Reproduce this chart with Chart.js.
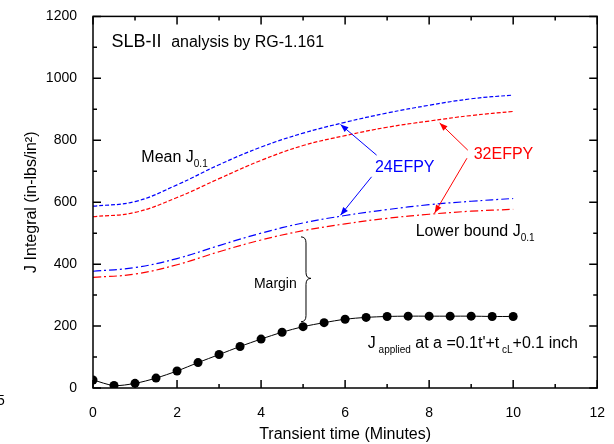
<!DOCTYPE html>
<html>
<head>
<meta charset="utf-8">
<script src="https://cdn.jsdelivr.net/npm/chart.js@4.4.1/dist/chart.umd.min.js"></script>
<style>
  html, body { margin: 0; padding: 0; background: #fff; }
</style>
</head>
<body>
<canvas id="graficoJ" width="614" height="444"></canvas>
<script>
// Tempos (minutos) das curvas de tenacidade
const tempos = [0, 1, 2, 3, 4, 5, 6, 7, 8, 9, 10];
const mediaJ24 = [587, 602, 656, 721, 778, 823, 858, 888, 913, 934, 946];
const mediaJ32 = [553, 567, 615, 676, 735, 783, 815, 842, 862, 880, 893];
const inferiorJ24 = [377, 389, 418, 460, 500, 533, 557, 576, 592, 603, 612];
const inferiorJ32 = [357, 368, 398, 440, 478, 508, 530, 548, 561, 571, 577];

// J aplicado
const temposAplicado = [0, 0.5, 1, 1.5, 2, 2.5, 3, 3.5, 4, 4.5, 5, 5.5, 6, 6.5, 7, 7.5, 8, 8.5, 9, 9.5, 10];
const jAplicado = [26, 8, 15, 32, 55, 82, 108, 134, 158, 180, 198, 211, 222, 228, 231, 232, 232, 232, 232, 231, 231];

// Ticks
const ticksX = [0, 2, 4, 6, 8, 10, 12];
const ticksXMenores = [1, 3, 5, 7, 9, 11];
const ticksY = [0, 200, 400, 600, 800, 1000, 1200];
const ticksYMenores = [100, 300, 500, 700, 900, 1100];

const FONTE = "'Liberation Sans', Arial, sans-serif";
Chart.defaults.font.family = FONTE;
Chart.defaults.color = "#000";

const pares = (xs, ys) => xs.map((x, i) => ({ x, y: ys[i] }));

// Escreve texto com partes (subscrito etc.)
function escrever(ctx, partes, x, y, cor) {
  ctx.fillStyle = cor || "#000";
  ctx.textAlign = "left";
  ctx.textBaseline = "alphabetic";
  let px = x;
  partes.forEach(p => {
    ctx.font = p.tam + "px " + FONTE;
    ctx.fillText(p.t, px, y + (p.dy || 0));
    px += ctx.measureText(p.t).width;
  });
}

function seta(ctx, x1, y1, x2, y2, cor) {
  const ang = Math.atan2(y2 - y1, x2 - x1);
  ctx.strokeStyle = cor; ctx.fillStyle = cor; ctx.lineWidth = 1;
  ctx.beginPath(); ctx.moveTo(x1, y1); ctx.lineTo(x2, y2); ctx.stroke();
  ctx.beginPath();
  ctx.moveTo(x2, y2);
  ctx.lineTo(x2 - 8 * Math.cos(ang) + 3 * Math.sin(ang), y2 - 8 * Math.sin(ang) - 3 * Math.cos(ang));
  ctx.lineTo(x2 - 8 * Math.cos(ang) - 3 * Math.sin(ang), y2 - 8 * Math.sin(ang) + 3 * Math.cos(ang));
  ctx.closePath(); ctx.fill();
}

const molduraPlugin = {
  id: "moldura",
  afterDraw(chart) {
    const { ctx, chartArea: a, scales: { x, y } } = chart;
    const X = v => x.getPixelForValue(v);
    const Y = v => y.getPixelForValue(v);
    ctx.save();

    // caixa e ticks para dentro
    ctx.strokeStyle = "#000";
    ctx.lineWidth = 1.5;
    ctx.strokeRect(a.left, a.top, a.right - a.left, a.bottom - a.top);
    ctx.beginPath();
    const tickV = (v, len) => {
      const px = X(v);
      ctx.moveTo(px, a.bottom); ctx.lineTo(px, a.bottom - len);
      ctx.moveTo(px, a.top); ctx.lineTo(px, a.top + len);
    };
    const tickH = (v, len) => {
      const py = Y(v);
      ctx.moveTo(a.left, py); ctx.lineTo(a.left + len, py);
      ctx.moveTo(a.right, py); ctx.lineTo(a.right - len, py);
    };
    ticksX.forEach(v => tickV(v, 8));
    ticksXMenores.forEach(v => tickV(v, 4));
    ticksY.forEach(v => tickH(v, 8));
    ticksYMenores.forEach(v => tickH(v, 4));
    ctx.stroke();

    // textos
    escrever(ctx, [{ t: "SLB-II", tam: 18 }], X(0.44), Y(1101));
    escrever(ctx, [{ t: "analysis by RG-1.161", tam: 16 }], X(1.86), Y(1101));
    escrever(ctx, [{ t: "Mean J", tam: 16 }, { t: "0.1", tam: 10, dy: 5 }], X(1.15), Y(730));
    escrever(ctx, [{ t: "24EFPY", tam: 16 }], X(6.71), Y(698), "#0000ff");
    escrever(ctx, [{ t: "32EFPY", tam: 16 }], X(9.06), Y(741), "#ff0000");
    escrever(ctx, [{ t: "Lower bound J", tam: 16 }, { t: "0.1", tam: 10, dy: 5 }], X(7.68), Y(490));
    escrever(ctx, [{ t: "Margin", tam: 14 }], X(3.83), Y(322));
    escrever(ctx, [
      { t: "J", tam: 16 }, { t: " applied", tam: 10, dy: 5 },
      { t: " at a =0.1t'+t", tam: 16 }, { t: " cL", tam: 10, dy: 5 },
      { t: "+0.1 inch", tam: 16 }
    ], X(6.54), Y(128));

    // setas
    seta(ctx, X(6.75), Y(752), X(5.89), Y(851), "#0000ff");
    seta(ctx, X(6.63), Y(682), X(5.89), Y(558), "#0000ff");
    seta(ctx, X(8.92), Y(768), X(8.25), Y(856), "#ff0000");
    seta(ctx, X(8.90), Y(742), X(8.13), Y(565), "#ff0000");

    // chave "Margin"
    const bx = X(4.95), bTop = Y(488), bBot = Y(214), bMid = Y(354), w = 10, r = 6;
    ctx.strokeStyle = "#000"; ctx.lineWidth = 1;
    ctx.beginPath();
    ctx.moveTo(bx, bTop);
    ctx.quadraticCurveTo(bx + w / 2, bTop, bx + w / 2, bTop + r);
    ctx.lineTo(bx + w / 2, bMid - r);
    ctx.quadraticCurveTo(bx + w / 2, bMid, bx + w, bMid);
    ctx.quadraticCurveTo(bx + w / 2, bMid, bx + w / 2, bMid + r);
    ctx.lineTo(bx + w / 2, bBot - r);
    ctx.quadraticCurveTo(bx + w / 2, bBot, bx, bBot);
    ctx.stroke();

    // "5" solto na margem esquerda
    escrever(ctx, [{ t: "5", tam: 14 }], -3, 405);
    ctx.restore();
  }
};

const linhaBase = { pointRadius: 0, borderWidth: 1.2, tension: 0.4, fill: false };

new Chart(document.getElementById("graficoJ"), {
  type: "line",
  data: {
    datasets: [
      { ...linhaBase, label: "Mean 24EFPY", data: pares(tempos, mediaJ24), borderColor: "#0000ff", borderDash: [4, 2] },
      { ...linhaBase, label: "Mean 32EFPY", data: pares(tempos, mediaJ32), borderColor: "#ff0000", borderDash: [4, 2] },
      { ...linhaBase, label: "Lower 24EFPY", data: pares(tempos, inferiorJ24), borderColor: "#0000ff", borderDash: [8, 3, 2, 3] },
      { ...linhaBase, label: "Lower 32EFPY", data: pares(tempos, inferiorJ32), borderColor: "#ff0000", borderDash: [8, 3, 2, 3] },
      {
        label: "J applied", data: pares(temposAplicado, jAplicado),
        borderColor: "#000", borderWidth: 1, backgroundColor: "#000",
        pointRadius: 4.5, pointBackgroundColor: "#000", pointBorderWidth: 0,
        tension: 0.3, clip: 0
      }
    ]
  },
  options: {
    responsive: false,
    animation: false,
    layout: { padding: { left: 0, right: 14, top: 16, bottom: 0 } },
    plugins: { legend: { display: false }, tooltip: { enabled: false } },
    scales: {
      x: {
        type: "linear", min: 0, max: 12,
        grid: { display: false }, border: { display: false },
        afterBuildTicks: s => { s.ticks = ticksX.map(v => ({ value: v })); },
        ticks: { font: { size: 14 }, padding: 9, maxRotation: 0, callback: v => String(v) },
        title: { display: true, text: "Transient time (Minutes)", font: { size: 16 }, padding: { top: 3, bottom: 0 } },
        afterFit: s => { s.height = 56; }
      },
      y: {
        type: "linear", min: 0, max: 1200,
        grid: { display: false }, border: { display: false },
        afterBuildTicks: s => { s.ticks = ticksY.map(v => ({ value: v })); },
        ticks: { font: { size: 14 }, padding: 8, callback: v => String(v) },
        title: { display: true, text: "J Integral (in-lbs/in²)", font: { size: 16 }, padding: { top: 22, bottom: 0 } },
        afterFit: s => { s.width = 93; }
      }
    }
  },
  plugins: [molduraPlugin]
});
</script>
</body>
</html>
